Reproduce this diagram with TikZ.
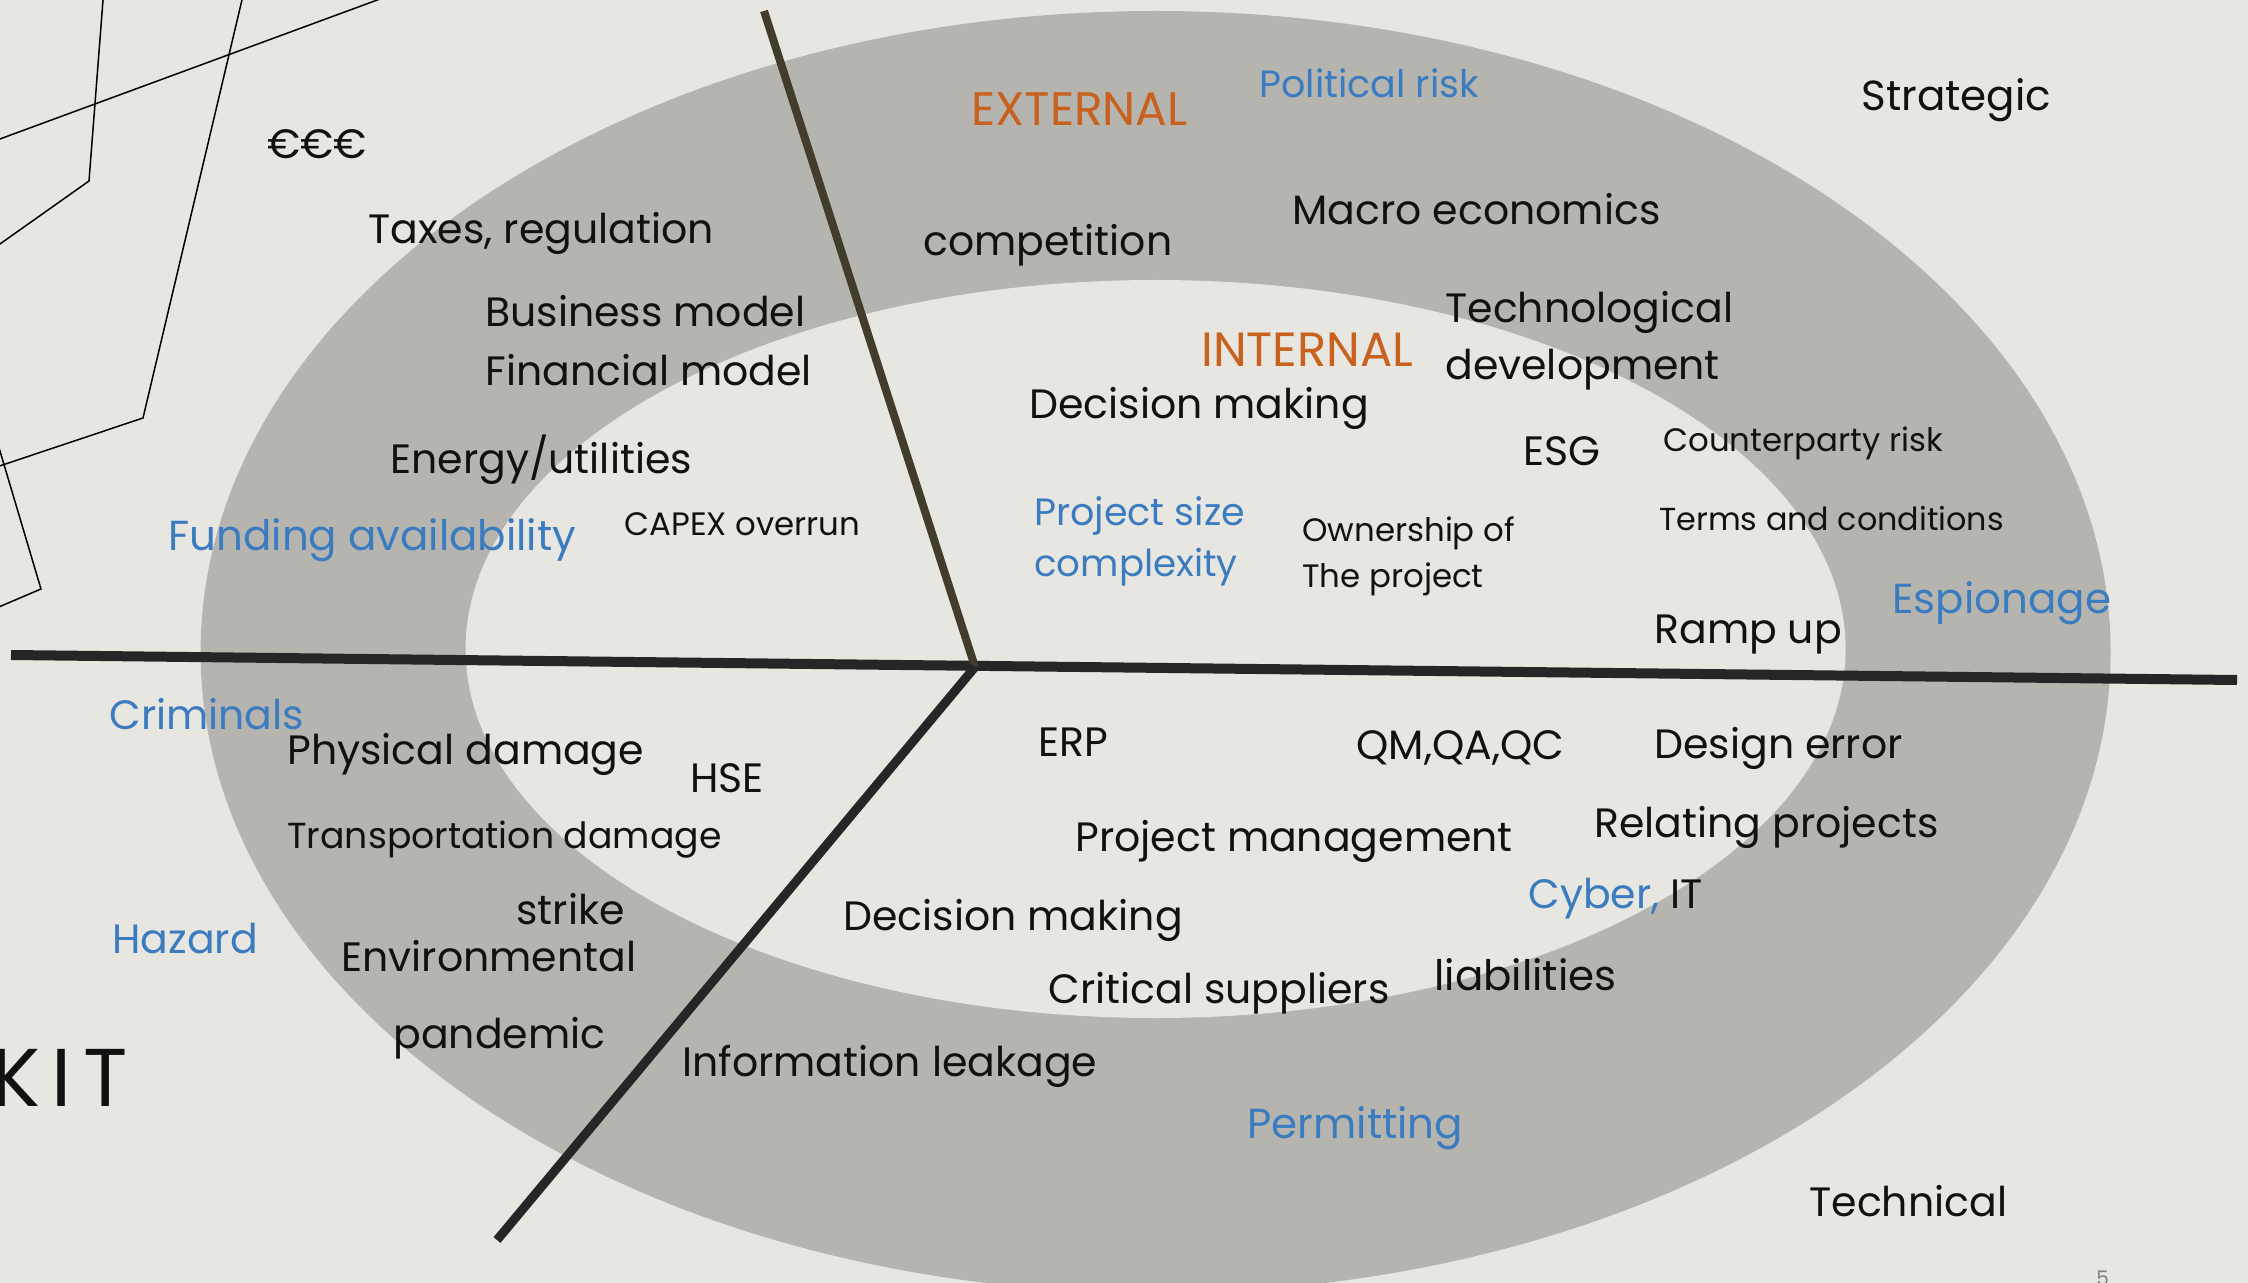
\documentclass[tikz,border=0pt]{standalone}
\usepackage{fontspec}
\setmainfont{Poppins}
\definecolor{bgc}{HTML}{E8E6E0}
\definecolor{ringc}{HTML}{B5B4AF}
\definecolor{bluec}{HTML}{3B7CC0}
\definecolor{orangec}{HTML}{C8601E}
\definecolor{upline}{HTML}{433B2C}
\definecolor{darkline}{HTML}{262626}
\definecolor{txt}{HTML}{111111}
\begin{document}
\begin{tikzpicture}[x=0.5pt,y=-0.5pt,
  lab/.style={anchor=west,inner sep=0pt,text=txt,font=\fontsize{20.5}{25}\selectfont},
  sml/.style={lab,font=\fontsize{16.2}{20}\selectfont},
  blu/.style={lab,text=bluec},
  org/.style={lab,text=orangec,font=\fontsize{23.5}{28}\selectfont},
  thin/.style={line width=0.75pt,black},
  axis/.style={line width=5pt,darkline}]
\useasboundingbox (0,0) rectangle (2248,1283);
\fill[bgc] (0,0) rectangle (2248,1283);
\begin{scope}
\clip (0,0) rectangle (2248,1283);
\fill[ringc] (1155.6,652) ellipse [x radius=477.5pt, y radius=320.5pt];
\fill[bgc] (1155.6,649) ellipse [x radius=345pt, y radius=184.5pt];
% decorative thin lines
\draw[thin] (-5,140.8) -- (380,-1);
\draw[thin] (103.1,-1) -- (89,181) -- (-5,247.5);
\draw[thin] (242.2,-1) -- (143,418) -- (-5,467.5);
\draw[thin] (-3,441) -- (41,589) -- (-5,608.6);
% KIT (cut at the left edge, as in the original)
\node[anchor=base west,inner sep=0pt,text=txt,font=\fontsize{41}{48}\selectfont\addfontfeatures{LetterSpace=14}] (kit) at (-9,1106) {KIT};
\end{scope}
% dividing lines
\coordinate (c) at (975,667);
\coordinate (hl) at (11,655);
\coordinate (hr) at (2237,680);
\coordinate (ut) at (764,11);
\coordinate (lb) at (497,1240);
\draw[axis] (hl) -- (hr);
\draw[line width=4pt,upline] (ut) -- (c);
\draw[line width=4.5pt,darkline] (c) -- (lb);
% texts
\begin{scope}[shift={(0,4)}]
\node[lab] (eur) at (267,140) {€€€};
\node[lab] (tax) at (368,229) {Taxes, regulation};
\node[lab] (bus) at (485,307) {Business model};
\node[lab] (fin) at (485,366) {Financial model};
\node[lab] (ene) at (390,456) {Energy/utilities};
\node[blu,font=\fontsize{21}{25}\selectfont] (fund) at (168,536) {Funding availability};
\node[sml] (capex) at (624,520) {CAPEX overrun};
\node[org] (ext) at (971,105) {EXTERNAL};
\node[blu,font=\fontsize{19}{23}\selectfont] (pol) at (1259,79) {Political risk};
\node[lab,font=\fontsize{21}{25}\selectfont] (str) at (1861,96) {Strategic};
\node[lab] (mac) at (1292,205) {Macro economics};
\node[lab] (comp) at (923,241) {competition};
\node[lab] (tec) at (1445,308) {Technological};
\node[lab] (dev) at (1445,366) {development};
\node[org,font=\fontsize{24}{28}\selectfont] (int) at (1201,346) {INTERNAL};
\node[lab] (dec) at (1029,404) {Decision making};
\node[lab] (esg) at (1523,447) {ESG};
\node[sml] (cpr) at (1663,439) {Counterparty risk};
\node[sml,font=\fontsize{15.9}{20}\selectfont] (tac) at (1659,515) {Terms and conditions};
\node[blu,font=\fontsize{19}{23}\selectfont] (psz) at (1034,512) {Project size};
\node[blu,font=\fontsize{18.6}{23}\selectfont] (cpx) at (1034,563) {complexity};
\node[sml] (own) at (1302,529) {Ownership of};
\node[sml] (thp) at (1302,575) {The project};
\node[blu,font=\fontsize{21}{25}\selectfont] (esp) at (1892,599) {Espionage};
\node[lab] (ramp) at (1654,631) {Ramp up};
\node[blu] (crim) at (109,710) {Criminals};
\node[lab] (phys) at (287,750) {Physical damage};
\node[lab] (hse) at (690,774) {HSE};
\node[sml,font=\fontsize{18.1}{22}\selectfont] (trans) at (287,836) {Transportation damage};
\node[lab] (erp) at (1038,738) {ERP};
\node[lab] (qm) at (1356,744) {QM,QA,QC};
\node[lab] (des) at (1654,744) {Design error};
\node[lab] (pm) at (1075,837) {Project management};
\node[lab] (rel) at (1594,823) {Relating projects};
\node[lab] (strike) at (516,905) {strike};
\node[blu] (haz) at (112,935) {Hazard};
\node[lab] (env) at (341,952) {Environmental};
\node[lab] (dec2) at (843,916) {Decision making};
\node[lab] (cyb) at (1528,895) {\textcolor{bluec}{Cyber,} IT};
\node[lab] (crit) at (1048,989) {Critical suppliers};
\node[lab,font=\fontsize{21}{25}\selectfont] (liab) at (1434,971) {liabilities};
\node[lab] (pand) at (393,1034) {pandemic};
\node[lab] (info) at (682,1062) {Information leakage};
\node[blu,font=\fontsize{21}{25}\selectfont] (perm) at (1247,1124) {Permitting};
\node[lab] (tech) at (1809,1197) {Technical};
\end{scope}
\node[anchor=north west,inner sep=0pt,text=gray,font=\fontsize{10}{12}\selectfont] (pg) at (2096,1271) {5};
\end{tikzpicture}
\end{document}
